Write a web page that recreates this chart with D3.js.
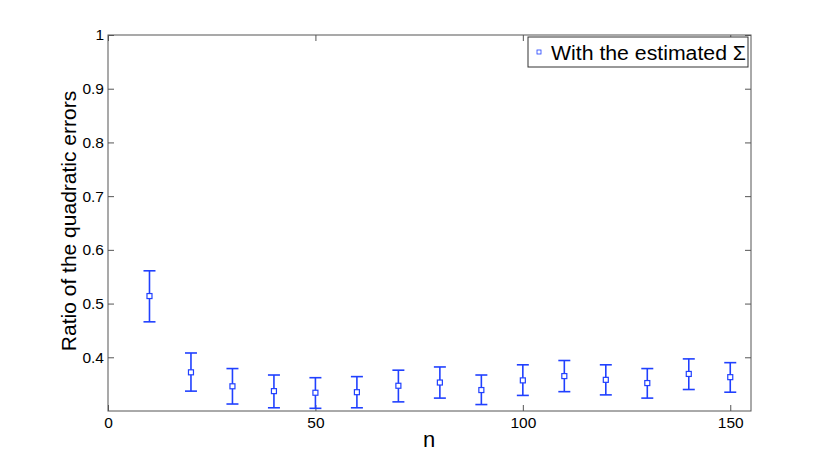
<!DOCTYPE html>
<html>
<head>
<meta charset="utf-8">
<script src="https://cdn.jsdelivr.net/npm/d3@7"></script>
<style>
  body { margin: 0; background: #fff; }
  svg text { font-family: "Liberation Sans", Arial, sans-serif; }
  .axis text { font-size: 15.5px; fill: #000; }
</style>
</head>
<body>
<svg id="chart" width="830" height="462"></svg>
<script>
// values
var nValues = [10, 20, 30, 40, 50, 60, 70, 80, 90, 100, 110, 120, 130, 140, 150];
var ratio   = [0.514, 0.372, 0.346, 0.337, 0.334, 0.335, 0.347, 0.353, 0.339, 0.357, 0.365, 0.358, 0.352, 0.369, 0.363];
var upper   = [0.561, 0.408, 0.379, 0.367, 0.362, 0.364, 0.376, 0.382, 0.367, 0.386, 0.394, 0.386, 0.379, 0.397, 0.390];
var lower   = [0.466, 0.337, 0.313, 0.306, 0.305, 0.306, 0.317, 0.324, 0.312, 0.329, 0.336, 0.330, 0.324, 0.340, 0.335];
var xTicks = [0, 50, 100, 150];
var yTicks = [0.4, 0.5, 0.6, 0.7, 0.8, 0.9, 1];
var legendLabel = "With the estimated \u03A3";

var svg = d3.select("#chart");
var plotL = 108, plotR = 751, plotT = 35, plotB = 411;
var blue = "#2040ff";
var axisColor = "#555";

var x = d3.scaleLinear().domain([0, 155]).range([plotL, plotR]);
var y = d3.scaleLinear().domain([0.3, 1]).range([plotB, plotT]);

// plot box
svg.append("rect")
    .attr("x", plotL).attr("y", plotT)
    .attr("width", plotR - plotL).attr("height", plotB - plotT)
    .attr("fill", "none").attr("stroke", axisColor).attr("stroke-width", 1);

// axes (ticks inside, mirrored)
function styleAxis(g) {
    g.attr("class", "axis").attr("font-size", 15.5).attr("font-family", null);
    g.select(".domain").remove();
    g.selectAll(".tick line").attr("stroke", axisColor);
}

svg.append("g")
    .attr("transform", "translate(0," + plotB + ")")
    .call(d3.axisBottom(x).tickValues(xTicks).tickSizeInner(-6).tickPadding(6).tickFormat(d3.format("d")))
    .call(styleAxis);

svg.append("g")
    .attr("transform", "translate(0," + plotT + ")")
    .call(d3.axisTop(x).tickValues(xTicks).tickSizeInner(-6).tickFormat(""))
    .call(styleAxis);

svg.append("g")
    .attr("transform", "translate(" + plotL + ",0)")
    .call(d3.axisLeft(y).tickValues(yTicks).tickSizeInner(-6).tickPadding(4).tickFormat(function(d) { return d === 1 ? "1" : d3.format(".1f")(d); }))
    .call(styleAxis);

svg.append("g")
    .attr("transform", "translate(" + plotR + ",0)")
    .call(d3.axisRight(y).tickValues(yTicks).tickSizeInner(-6).tickFormat(""))
    .call(styleAxis);

// error bars
var pts = nValues.map(function(n, i) {
    return { n: n, v: ratio[i], hi: upper[i], lo: lower[i] };
});

var eb = svg.append("g").selectAll("g")
    .data(pts)
    .enter().append("g")
    .attr("stroke", blue).attr("fill", "none").attr("stroke-width", 1.6);

eb.append("line")
    .attr("x1", function(d) { return x(d.n); })
    .attr("x2", function(d) { return x(d.n); })
    .attr("y1", function(d) { return y(d.hi); })
    .attr("y2", function(d) { return y(d.lo); });

eb.append("line")
    .attr("x1", function(d) { return x(d.n) - 6; })
    .attr("x2", function(d) { return x(d.n) + 6; })
    .attr("y1", function(d) { return y(d.hi); })
    .attr("y2", function(d) { return y(d.hi); });

eb.append("line")
    .attr("x1", function(d) { return x(d.n) - 6; })
    .attr("x2", function(d) { return x(d.n) + 6; })
    .attr("y1", function(d) { return y(d.lo); })
    .attr("y2", function(d) { return y(d.lo); });

eb.append("rect")
    .attr("x", function(d) { return x(d.n) - 2.5; })
    .attr("y", function(d) { return y(d.v) - 2.5; })
    .attr("width", 5).attr("height", 5)
    .attr("fill", "#fff").attr("stroke-width", 1.2);

// axis labels
svg.append("text")
    .attr("x", 429).attr("y", 447)
    .attr("text-anchor", "middle")
    .style("font-size", "22px")
    .text("n");

svg.append("text")
    .attr("transform", "translate(76,221) rotate(-90)")
    .attr("text-anchor", "middle")
    .style("font-size", "21px")
    .text("Ratio of the quadratic errors");

// legend
var lg = svg.append("g").attr("transform", "translate(528,37)");
lg.append("rect")
    .attr("width", 220).attr("height", 30)
    .attr("fill", "#fff").attr("stroke", "#333").attr("stroke-width", 1);
lg.append("rect")
    .attr("x", 9).attr("y", 13).attr("width", 4).attr("height", 4)
    .attr("fill", "none").attr("stroke", blue).attr("stroke-width", 0.8);
lg.append("text")
    .attr("x", 23).attr("y", 23)
    .attr("textLength", 195).attr("lengthAdjust", "spacingAndGlyphs")
    .style("font-size", "20px")
    .text(legendLabel);
</script>
</body>
</html>
